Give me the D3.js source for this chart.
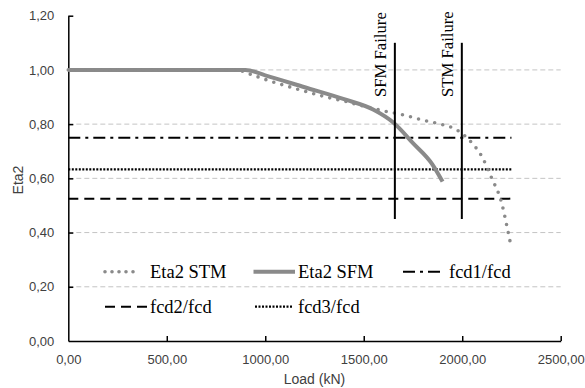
<!DOCTYPE html>
<html><head><meta charset="utf-8">
<script src="https://cdn.jsdelivr.net/npm/d3@7"></script>
<style>body{margin:0;background:#fff}svg{display:block}</style>
</head><body><svg id="c" width="585" height="388"></svg>
<script>
const xTicks = [0, 500, 1000, 1500, 2000, 2500];
const yTicks = [0, 0.2, 0.4, 0.6, 0.8, 1.0, 1.2];
const gridValues = [0.2, 0.4, 0.6, 0.8, 1.0];
const stmLoad = [0, 850, 940, 1020, 1150, 1310, 1400, 1500, 1600, 1700, 1800, 1900, 1950, 2000, 2050, 2100, 2150, 2200, 2225, 2245];
const stmEta = [1, 1, 0.98, 0.96, 0.932, 0.9, 0.885, 0.866, 0.849, 0.834, 0.815, 0.798, 0.787, 0.765, 0.73, 0.68, 0.60, 0.51, 0.43, 0.36];
const sfmLoad = [0, 900, 1000, 1200, 1400, 1550, 1650, 1750, 1850, 1900];
const sfmEta = [1, 1, 0.98, 0.936, 0.892, 0.853, 0.806, 0.73, 0.65, 0.588];
const refNames = ["fcd1/fcd", "fcd2/fcd", "fcd3/fcd"];
const refValues = [0.75, 0.525, 0.633];
const refRange = [0, 2250];
const failNames = ["SFM Failure", "STM Failure"];
const failLoads = [1658, 1998];
const failRange = [0.45, 1.10];

const svg = d3.select("#c");
const L = 68.3, R = 560.7, T = 15.7, B = 341;
const x = d3.scaleLinear().domain([0, 2500]).range([L, R]);
const y = d3.scaleLinear().domain([0, 1.2]).range([B, T]);
const fmt = d => d3.format(".2f")(d).replace(".", ",");
const gray = "#8a8a8a";

// gridlines
svg.append("g").selectAll("line").data(gridValues).join("line")
  .attr("x1", x(0)).attr("x2", x(2500)).attr("y1", d => y(d)).attr("y2", d => y(d))
  .attr("stroke", "#c4c4c4").attr("stroke-width", 1).attr("stroke-dasharray", "5,3");

// axes
const xa = svg.append("g").attr("transform", `translate(0,${B})`)
  .call(d3.axisBottom(x).tickValues(xTicks).tickFormat(fmt).tickSizeInner(-5).tickSizeOuter(0).tickPadding(14));
const ya = svg.append("g").attr("transform", `translate(${L},0)`)
  .call(d3.axisLeft(y).tickValues(yTicks).tickFormat(fmt).tickSizeInner(-5).tickSizeOuter(0).tickPadding(14));
[xa, ya].forEach(a => {
  a.select(".domain").attr("stroke", "#000").attr("stroke-width", 1.5);
  a.selectAll(".tick line").attr("stroke", "#000").attr("stroke-width", 1.5);
  a.selectAll("text").attr("font-family", "Liberation Sans, Arial, sans-serif").attr("font-size", 13).attr("fill", "#404040");
});
ya.selectAll(".tick").filter(d => d === 0).select("line").remove();
xa.selectAll(".tick").filter(d => d === 0).select("line").remove();

// axis titles
svg.append("text").attr("x", (L + R) / 2).attr("y", 384).attr("text-anchor", "middle")
  .attr("font-family", "Liberation Sans, Arial, sans-serif").attr("font-size", 14).attr("fill", "#404040").text("Load (kN)");
svg.append("text").attr("transform", `translate(23,180) rotate(-90)`).attr("text-anchor", "middle")
  .attr("font-family", "Liberation Sans, Arial, sans-serif").attr("font-size", 14).attr("fill", "#404040").text("Eta2");

// reference lines
const refDash = ["12,5,3,5", "10,6", "2,1.5"];
const refWidth = [2, 2, 2.2];
svg.append("g").selectAll("line").data(refValues).join("line")
  .attr("x1", x(refRange[0])).attr("x2", x(refRange[1])).attr("y1", d => y(d)).attr("y2", d => y(d))
  .attr("stroke", "#000").attr("stroke-width", (d, i) => refWidth[i]).attr("stroke-dasharray", (d, i) => refDash[i]);

// series
const line = d3.line().x(d => x(d[0])).y(d => y(d[1])).curve(d3.curveMonotoneX);
svg.append("path").datum(sfmLoad.map((l, i) => [l, sfmEta[i]])).attr("d", line)
  .attr("fill", "none").attr("stroke", gray).attr("stroke-width", 4).attr("stroke-linejoin", "round");
svg.append("path").datum(stmLoad.map((l, i) => [l, stmEta[i]])).attr("d", line)
  .attr("fill", "none").attr("stroke", gray).attr("stroke-width", 3.6).attr("stroke-linecap", "round")
  .attr("stroke-dasharray", "0,8.3");

// failure lines
svg.append("g").selectAll("line").data(failLoads).join("line")
  .attr("x1", d => x(d)).attr("x2", d => x(d)).attr("y1", y(failRange[0])).attr("y2", y(failRange[1]))
  .attr("stroke", "#000").attr("stroke-width", 2);
svg.append("g").selectAll("text").data(failLoads).join("text")
  .attr("transform", d => `translate(${x(d) - 9},${y(0.9)}) rotate(-90)`)
  .attr("font-family", "Liberation Serif, Times New Roman, serif").attr("font-size", 16.7).attr("fill", "#000")
  .text((d, i) => failNames[i]);

// legend
const leg = svg.append("g").attr("font-family", "Liberation Serif, Times New Roman, serif").attr("font-size", 18.5).attr("fill", "#000");
const items = [
  {name: "Eta2 STM", x: 105, y: 271.7, x2: 140, stroke: gray, w: 3.6, dash: "0,7", cap: "round", tx: 150},
  {name: "Eta2 SFM", x: 253.5, y: 271.7, x2: 295, stroke: gray, w: 4, dash: null, cap: "butt", tx: 298},
  {name: refNames[0], x: 403, y: 271.7, x2: 442, stroke: "#000", w: 2, dash: refDash[0], cap: "butt", tx: 449},
  {name: refNames[1], x: 105, y: 306.7, x2: 148, stroke: "#000", w: 2, dash: refDash[1], cap: "butt", tx: 150},
  {name: refNames[2], x: 255, y: 306.7, x2: 293, stroke: "#000", w: 2.2, dash: refDash[2], cap: "butt", tx: 298}
];
items.forEach(it => {
  const l = leg.append("line").attr("x1", it.x).attr("x2", it.x2).attr("y1", it.y).attr("y2", it.y)
    .attr("stroke", it.stroke).attr("stroke-width", it.w).attr("stroke-linecap", it.cap);
  if (it.dash) l.attr("stroke-dasharray", it.dash);
  leg.append("text").attr("x", it.tx).attr("y", it.y + 6.6).text(it.name);
});
</script></body></html>
